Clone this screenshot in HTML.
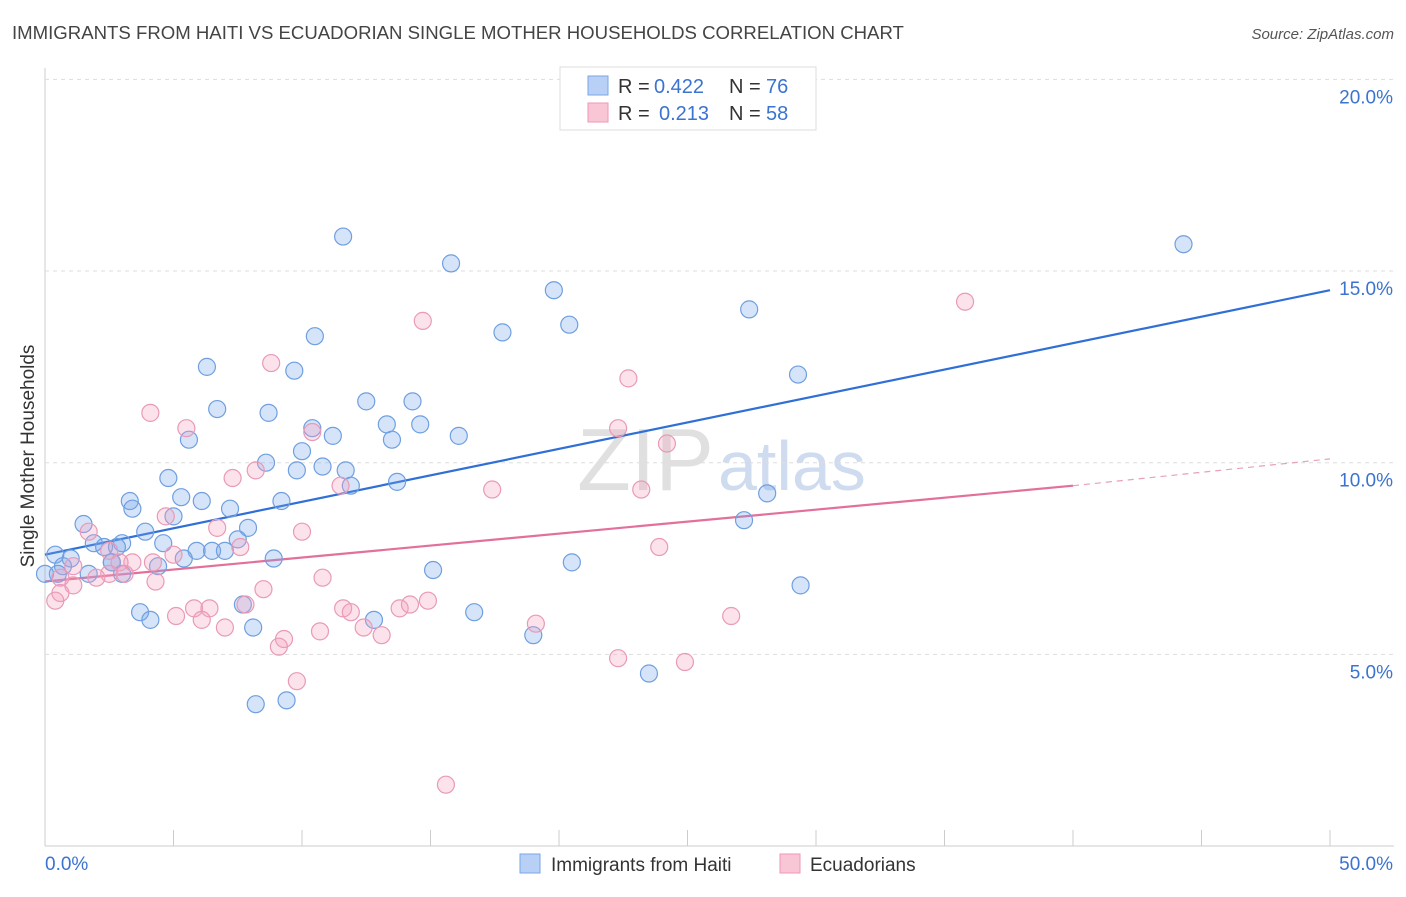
<!DOCTYPE html>
<html><head><meta charset="utf-8"><style>
body{margin:0;background:#fff;font-family:"Liberation Sans",sans-serif;}
svg text{font-family:"Liberation Sans",sans-serif;}
</style></head><body>
<svg id="chart" width="1406" height="892" xmlns="http://www.w3.org/2000/svg">
<text x="12" y="39" font-size="18.6" fill="#444">IMMIGRANTS FROM HAITI VS ECUADORIAN SINGLE MOTHER HOUSEHOLDS CORRELATION CHART</text>
<text x="1394" y="39" font-size="15" fill="#555" text-anchor="end" font-style="italic">Source: ZipAtlas.com</text>
<text x="714" y="490" font-size="88" fill="#e0e0e0" text-anchor="end" font-family="Liberation Serif">ZIP</text>
<text x="718" y="490" font-size="70" fill="#cfdcf0">atlas</text>
<text transform="translate(34,456) rotate(-90)" font-size="19" fill="#333" text-anchor="middle">Single Mother Households</text>
<g id="grid"></g><g id="lines"></g><g id="pts"></g>
<g>
<rect x="560" y="67" width="256" height="63" fill="#fff" stroke="#ddd"/>
<rect x="588" y="76" width="20" height="19" fill="#b8d0f5" stroke="#7aa6e6"/>
<rect x="588" y="103" width="20" height="19" fill="#f9c6d6" stroke="#ee98b5"/>
<text x="618" y="93" font-size="20" fill="#333">R =</text>
<text x="654" y="93" font-size="20" fill="#3b73d0">0.422</text>
<text x="729" y="93" font-size="20" fill="#333">N =</text>
<text x="766" y="93" font-size="20" fill="#3b73d0">76</text>
<text x="618" y="120" font-size="20" fill="#333">R =</text>
<text x="659" y="120" font-size="20" fill="#3b73d0">0.213</text>
<text x="729" y="120" font-size="20" fill="#333">N =</text>
<text x="766" y="120" font-size="20" fill="#3b73d0">58</text>
</g>
<g>
<rect x="520" y="854" width="20" height="19" fill="#b8d0f5" stroke="#7aa6e6"/>
<text x="551" y="871" font-size="19" fill="#333">Immigrants from Haiti</text>
<rect x="780" y="854" width="20" height="19" fill="#f9c6d6" stroke="#ee98b5"/>
<text x="810" y="871" font-size="19" fill="#333">Ecuadorians</text>
</g>
</svg>
<script>
const yTicks=[5,10,15,20];
const xTickLabels=["0.0%","50.0%"];
const blueX=[11.6,15.8,44.3,19.8,27.4,20.4,17.8,10.5,6.3,9.7,29.3,12.5,6.7,14.3,8.7,13.3,14.6,13.5,16.1,10.4,11.2,5.6,8.6,10.0,9.8,10.8,11.7,11.9,4.8,13.7,28.1,5.3,3.3,6.1,9.2,3.4,7.2,5.0,27.2,1.5,3.9,7.9,7.5,4.6,2.3,3.0,1.9,2.8,0.4,1.0,5.9,6.5,7.0,8.9,5.4,2.6,0.7,0.5,4.4,20.5,15.1,3.0,1.7,2.6,29.4,3.7,4.1,7.7,16.7,12.8,8.1,19.0,23.5,8.2,9.4,0.0];
const blueY=[15.9,15.2,15.7,14.5,14.0,13.6,13.4,13.3,12.5,12.4,12.3,11.6,11.4,11.6,11.3,11.0,11.0,10.6,10.7,10.9,10.7,10.6,10.0,10.3,9.8,9.9,9.8,9.4,9.6,9.5,9.2,9.1,9.0,9.0,9.0,8.8,8.8,8.6,8.5,8.4,8.2,8.3,8.0,7.9,7.8,7.9,7.9,7.8,7.6,7.5,7.7,7.7,7.7,7.5,7.5,7.4,7.3,7.1,7.3,7.4,7.2,7.1,7.1,7.4,6.8,6.1,5.9,6.3,6.1,5.9,5.7,5.5,4.5,3.7,3.8,7.1];
const pinkX=[35.8,14.7,8.8,22.7,4.1,5.5,22.3,10.4,24.2,7.3,8.2,17.4,23.2,11.5,4.7,10.0,6.7,1.7,7.6,23.9,2.5,5.0,3.4,4.2,2.9,1.1,2.5,3.1,2.0,10.8,0.6,1.1,4.3,8.5,0.6,0.4,5.8,7.8,6.4,11.6,5.1,11.9,13.8,14.2,14.9,26.7,6.1,7.0,19.1,12.4,10.7,13.1,9.3,9.1,22.3,24.9,9.8,15.6];
const pinkY=[14.2,13.7,12.6,12.2,11.3,10.9,10.9,10.8,10.5,9.6,9.8,9.3,9.3,9.4,8.6,8.2,8.3,8.2,7.8,7.8,7.7,7.6,7.4,7.4,7.4,7.3,7.1,7.1,7.0,7.0,7.0,6.8,6.9,6.7,6.6,6.4,6.2,6.3,6.2,6.2,6.0,6.1,6.2,6.3,6.4,6.0,5.9,5.7,5.8,5.7,5.6,5.5,5.4,5.2,4.9,4.8,4.3,1.6];
const blueFit=[7.6,14.5];
const pinkFit=[6.9,9.4,10.1];
const X=v=>45+v*25.7, Y=v=>846-v*38.33;
const NS="http://www.w3.org/2000/svg";
function mk(tag,attrs,parent){const e=document.createElementNS(NS,tag);for(const k in attrs)e.setAttribute(k,attrs[k]);document.getElementById(parent).appendChild(e);return e;}
let ax=mk('line',{x1:45,y1:68,x2:45,y2:846,stroke:'#ccc'},'grid');


let bx=mk('line',{x1:45,y1:846,x2:1394,y2:846,stroke:'#ccc'},'grid');


for(let i=0;i<=10;i++){let t=mk('line',{x1:X(i*5),y1:830,x2:X(i*5),y2:846,stroke:'#ccc'},'grid');

}
yTicks.forEach(v=>{let g=mk('line',{x1:45,y1:Y(v),x2:1394,y2:Y(v),stroke:'#ddd','stroke-dasharray':'4,4'},'grid');


let t=mk('text',{x:1393,y:Y(v)+24,'font-size':19,fill:'#3b73d0','text-anchor':'end'},'grid');t.textContent=v.toFixed(1)+'%';

});
let xl0=mk('text',{x:45,y:870,'font-size':19,fill:'#3b73d0'},'grid');xl0.textContent=xTickLabels[0];


let xl1=mk('text',{x:1393,y:870,'font-size':19,fill:'#3b73d0','text-anchor':'end'},'grid');xl1.textContent=xTickLabels[1];


function pts(xs,ys,fill,stroke,name){xs.forEach((x,i)=>{let c=mk('circle',{cx:X(x),cy:Y(ys[i]),r:8.5,fill:fill,stroke:stroke,'stroke-width':1.2},'pts');

});}
pts(blueX,blueY,'rgba(120,165,235,0.3)','#6f9fe0','haiti-point');
pts(pinkX,pinkY,'rgba(245,160,190,0.3)','#e99ab7','ecuadorian-point');
let bl=mk('line',{x1:X(0),y1:Y(blueFit[0]),x2:X(50),y2:Y(blueFit[1]),stroke:'#2f6fd6','stroke-width':2.2},'lines');


let pl=mk('line',{x1:X(0),y1:Y(pinkFit[0]),x2:X(40),y2:Y(pinkFit[1]),stroke:'#e2709a','stroke-width':2.2},'lines');


let pd=mk('line',{x1:X(40),y1:Y(pinkFit[1]),x2:X(50),y2:Y(pinkFit[2]),stroke:'#e7a0b8','stroke-width':1.2,'stroke-dasharray':'6,5'},'lines');


</script>
</body></html>
